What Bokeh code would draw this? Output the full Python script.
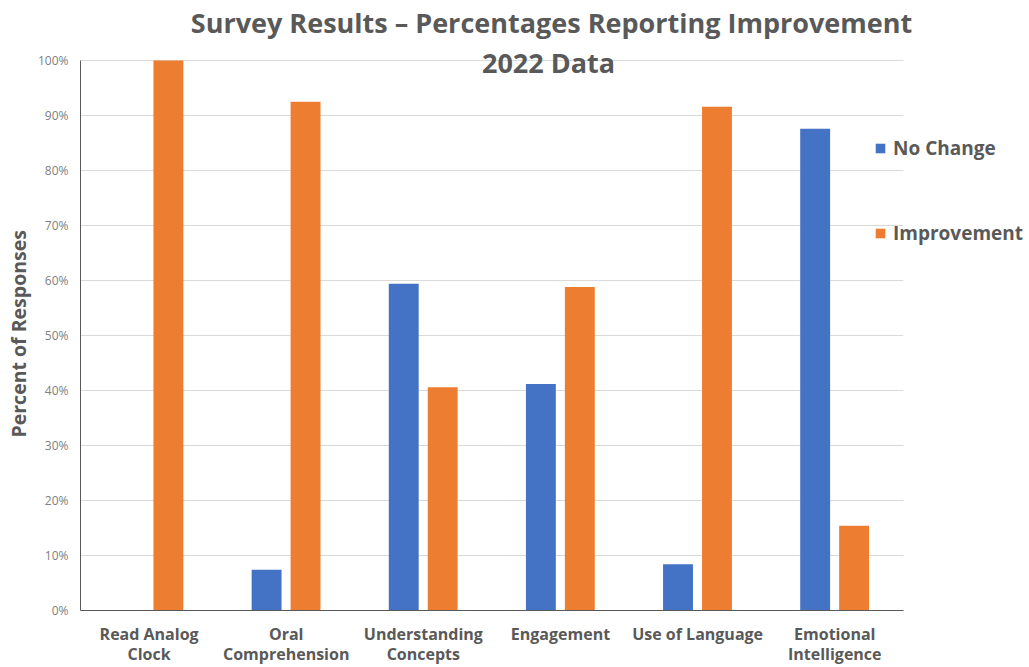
from bokeh.plotting import figure
from bokeh.models import (Range1d, Legend, LegendItem, Label, LinearAxis, Title,
                          FixedTicker, PrintfTickFormatter, ColumnDataSource)
from bokeh.transform import dodge
from bokeh.embed import file_html
from bokeh.resources import INLINE

# ---- data ----
categories = ["Read Analog Clock", "Oral Comprehension", "Understanding Concepts",
              "Engagement", "Use of Language", "Emotional Intelligence"]
label_line1 = ["Read Analog", "Oral", "Understanding", "Engagement",
               "Use of Language", "Emotional"]
label_line2 = ["Clock", "Comprehension", "Concepts", "", "", "Intelligence"]
no_change = [0, 7.4, 59.4, 41.2, 8.4, 87.6]
improvement = [100, 92.5, 40.6, 58.8, 91.6, 15.4]
series_names = ["No Change", "Improvement"]
y_ticks = [0, 10, 20, 30, 40, 50, 60, 70, 80, 90, 100]
title_lines = ["Survey Results \u2013 Percentages Reporting Improvement", "2022 Data"]
y_title = "Percent of Responses"

BLUE = "#4472C4"
ORANGE = "#ED7D31"
TEXT = "#595959"
FONT = "Open Sans"

n = len(categories)
idx = list(range(n))
src = ColumnDataSource(dict(idx=idx, cat=categories, nc=no_change, imp=improvement))

p = figure(x_range=Range1d(-0.5, 6.42), y_range=Range1d(0, 110.9),
           width=1029, height=667, output_backend="svg", toolbar_location=None,
           min_border_left=80, min_border_right=0, min_border_top=0,
           min_border_bottom=57, x_axis_type=None, y_axis_type=None)
p.outline_line_color = None
p.background_fill_color = "white"
p.border_fill_color = "white"
p.xgrid.visible = False
p.ygrid.visible = False

# horizontal gridlines limited to the category area
p.segment(x0=-0.5, x1=n - 0.5, y0=y_ticks, y1=y_ticks,
          line_color="#d9d9d9", line_width=1)

r1 = p.vbar(x=dodge("idx", -0.143), top="nc", width=0.218,
            source=src, fill_color=BLUE, line_color=None)
r2 = p.vbar(x=dodge("idx", 0.141), top="imp", width=0.218,
            source=src, fill_color=ORANGE, line_color=None)

# x axes (two label lines)
xa = LinearAxis(ticker=FixedTicker(ticks=idx), bounds=(-0.5, n - 0.5),
                major_label_overrides=dict(zip(idx, label_line1)))
xb = LinearAxis(ticker=FixedTicker(ticks=idx), bounds=(-0.5, n - 0.5),
                major_label_overrides=dict(zip(idx, label_line2)))
for ax in (xa, xb):
    ax.major_tick_line_color = None
    ax.minor_tick_line_color = None
    ax.major_tick_out = 0
    ax.major_tick_in = 0
    ax.minor_tick_out = 0
    ax.major_label_text_font = FONT
    ax.major_label_text_font_style = "bold"
    ax.major_label_text_font_size = "16px"
    ax.major_label_text_color = TEXT
xa.axis_line_color = "#595959"
xa.major_label_standoff = 12
xb.axis_line_color = None
xb.major_label_standoff = -5
p.add_layout(xa, "below")
p.add_layout(xb, "below")

ya = LinearAxis(ticker=FixedTicker(ticks=y_ticks), bounds=(0, 100),
                formatter=PrintfTickFormatter(format="%d%%"))
ya.major_tick_line_color = None
ya.minor_tick_line_color = None
ya.major_tick_out = 0
ya.major_tick_in = 0
ya.minor_tick_out = 0
ya.axis_line_color = "#595959"
ya.major_label_text_font = FONT
ya.major_label_text_font_size = "12px"
ya.major_label_text_color = "#808080"
ya.major_label_standoff = 12
p.add_layout(ya, "left")

# y-axis title, placed along the 0-100% span
ytitle = Title(text=y_title, align="left", offset=173, standoff=5,
               text_font=FONT, text_font_style="bold", text_font_size="19.5px",
               text_color=TEXT)
p.add_layout(ytitle, "left")

# legend
legend = Legend(items=[LegendItem(label=series_names[0], renderers=[r1]),
                       LegendItem(label=series_names[1], renderers=[r2])],
                location=(794, 364), orientation="vertical",
                glyph_width=12, glyph_height=12, label_height=26,
                spacing=59, padding=0, margin=0, label_standoff=7,
                border_line_color=None, background_fill_alpha=0,
                label_text_font=FONT, label_text_font_style="bold",
                label_text_font_size="19px", label_text_color=TEXT)
p.add_layout(legend, "center")

# title (two lines, second overlapping the plot top)
t1 = Label(x=471, y=588, x_units="screen", y_units="screen", text=title_lines[0],
           text_align="center", text_baseline="middle", text_font=FONT,
           text_font_style="bold", text_font_size="27px", text_color=TEXT)
t2 = Label(x=468, y=548, x_units="screen", y_units="screen", text=title_lines[1],
           text_align="center", text_baseline="middle", text_font=FONT,
           text_font_style="bold", text_font_size="27px", text_color=TEXT)
p.add_layout(t1)
p.add_layout(t2)

open("out.html", "w").write(file_html(p, INLINE))
